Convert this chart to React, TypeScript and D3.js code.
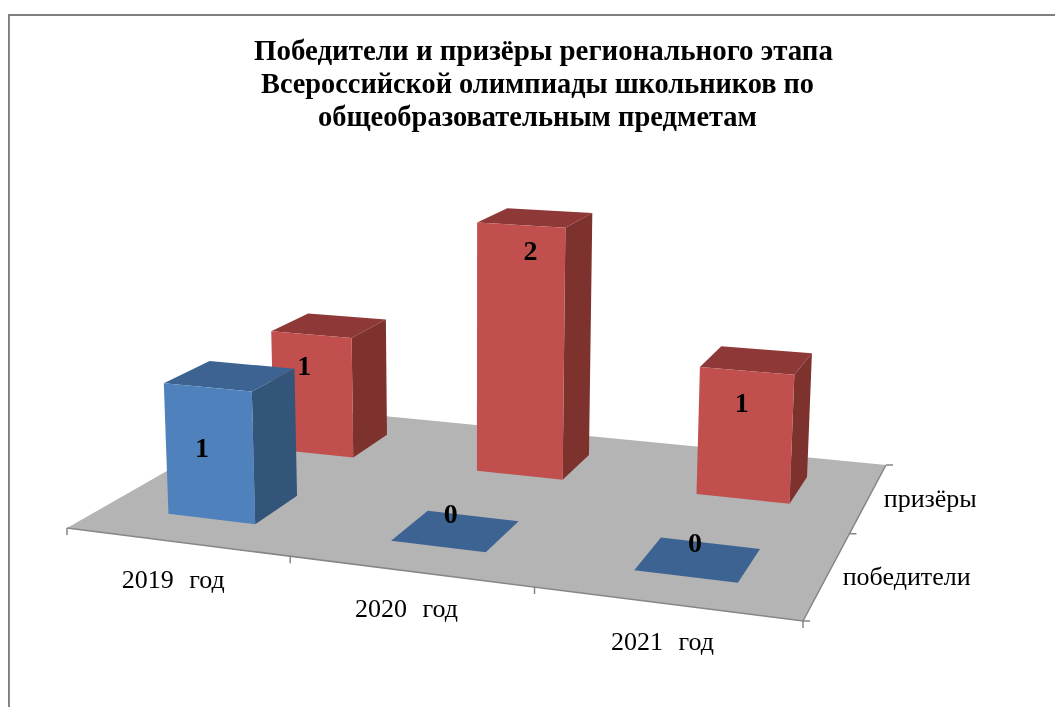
import React from "react";
import * as d3 from "d3";

const titleLines = [
  "Победители и призёры регионального этапа",
  "Всероссийской олимпиады школьников по",
  "общеобразовательным предметам",
];
const categories = ["2019 год", "2020 год", "2021 год"];
const seriesNames = ["победители", "призёры"];
const winners = [1, 0, 0];
const medalists = [1, 2, 1];

// fitted extent of each title line
const titleCentres = [543.5, 537.5, 537.5];
const titleWidths = [579, 553, 439];

// label nudges relative to the bar's top centre, per [series][category]
const labelNudge = [
  [[-28, 72], [-5, -17], [-3, -16]],
  [[-25, 41], [-5, 33], [-15, 43]],
];
const palette = [
  { front: "#4F81BD", side: "#335479", top: "#3E6392" },
  { front: "#C0504D", side: "#7D302F", top: "#8F3937" },
];

// Perspective of the chart floor: unit square to screen, with a vanishing point for verticals
const q0: [number, number] = [67, 528];
const q1: [number, number] = [803, 621];
const q2: [number, number] = [886, 465];
const q3: [number, number] = [281, 406];
const vanish: [number, number] = [470, 9000];

const dx1 = q1[0] - q2[0], dx2 = q3[0] - q2[0], sx = q0[0] - q1[0] + q2[0] - q3[0];
const dy1 = q1[1] - q2[1], dy2 = q3[1] - q2[1], sy = q0[1] - q1[1] + q2[1] - q3[1];
const det = dx1 * dy2 - dx2 * dy1;
const g = (sx * dy2 - dx2 * sy) / det;
const h = (dx1 * sy - sx * dy1) / det;
const a = q1[0] - q0[0] + g * q1[0], b = q3[0] - q0[0] + h * q3[0], c = q0[0];
const d_ = q1[1] - q0[1] + g * q1[1], e = q3[1] - q0[1] + h * q3[1], f = q0[1];

function project(u: number, v: number, z = 0): [number, number] {
  const w = 1 + g * u + h * v - z;
  return [
    (a * u + b * v + c - z * vanish[0]) / w,
    (d_ * u + e * v + f - z * vanish[1]) / w,
  ];
}

const uScale = d3.scaleBand<string>().domain(categories).range([0, 1]).paddingInner(0.6).paddingOuter(0.3);
const vScale = d3.scaleBand<string>().domain(seriesNames).range([0, 1]).paddingInner(0.6).paddingOuter(0.3);
const zScale = d3.scaleLinear().domain([0, 2]).range([0, 0.031]);
const poly = d3.line().curve(d3.curveLinearClosed);
const seg = d3.line();

const AXIS = "#868686";
const FONT = "'Liberation Serif', serif";

function Bar({ cat, ser, value }: { cat: string; ser: number; value: number }) {
  const u0 = uScale(cat)!, u1 = u0 + uScale.bandwidth();
  const v0 = vScale(seriesNames[ser])!, v1 = v0 + vScale.bandwidth();
  const z = zScale(value);
  const col = palette[ser];
  const top = poly([project(u0, v0, z), project(u1, v0, z), project(u1, v1, z), project(u0, v1, z)])!;
  if (value === 0) return <path d={top} fill={col.top} />;
  return (
    <g>
      <path d={top} fill={col.top} />
      <path d={poly([project(u1, v0, 0), project(u1, v1, 0), project(u1, v1, z), project(u1, v0, z)])!} fill={col.side} />
      <path d={poly([project(u0, v0, 0), project(u1, v0, 0), project(u1, v0, z), project(u0, v0, z)])!} fill={col.front} />
    </g>
  );
}

export default function App() {
  const rows = [
    { ser: 1, values: medalists },
    { ser: 0, values: winners },
  ];
  const uTicks = d3.range(categories.length + 1).map((i) => i / categories.length);
  const vTicks = d3.range(seriesNames.length + 1).map((i) => i / seriesNames.length);
  return (
    <svg width={1055} height={707} style={{ position: "absolute", left: 0, top: 0, background: "#fff" }}>
      <defs>
        <filter id="soft" x="0" y="0" width="100%" height="100%">
          <feGaussianBlur stdDeviation="0.4" />
        </filter>
      </defs>
      <g filter="url(#soft)">
        <path d={seg([[8.5, 707], [8.5, 14.5], [1055, 14.5]])!} fill="none" stroke="#808080" strokeWidth={2.8} />
        <g fontFamily={FONT} fontWeight="bold" fontSize={28.5} textAnchor="middle" fill="#000">
          {titleLines.map((t, i) => (
            <text key={i} x={titleCentres[i]} y={60 + i * 33} textLength={titleWidths[i]} lengthAdjust="spacingAndGlyphs">{t}</text>
          ))}
        </g>
        <path d={poly([project(0, 0), project(1, 0), project(1, 1), project(0, 1)])!} fill="#B4B4B4" />
        <path d={seg([project(0, 0), project(1, 0), project(1, 1)])!} fill="none" stroke={AXIS} strokeWidth={1.5} />
        {uTicks.map((t) => {
          const p = project(t, 0);
          return <path key={t} d={seg([p, [p[0], p[1] + 7]])!} stroke={AXIS} strokeWidth={1.5} />;
        })}
        {vTicks.map((t) => {
          const p = project(1, t);
          return <path key={t} d={seg([p, [p[0] + 7, p[1]]])!} stroke={AXIS} strokeWidth={1.5} />;
        })}
        {rows.map((r) =>
          categories.map((cat, i) => <Bar key={r.ser + cat} cat={cat} ser={r.ser} value={r.values[i]} />)
        )}
        <g fontFamily={FONT} fontSize={26} fill="#000">
          {categories.map((cat) => {
            const p = project(uScale(cat)! + uScale.bandwidth() / 2, 0);
            return (
              <text key={cat} x={p[0] - 3} y={p[1] + 46} textAnchor="middle" wordSpacing={9}>{cat}</text>
            );
          })}
          {seriesNames.map((s) => {
            const p = project(1, vScale(s)! + vScale.bandwidth() / 2);
            return <text key={s} x={p[0] + 15} y={p[1] + 10}>{s}</text>;
          })}
        </g>
        <g fontFamily={FONT} fontWeight="bold" fontSize={28} textAnchor="middle" fill="#000">
          {rows.map((r) =>
            categories.map((cat, i) => {
              const uc = uScale(cat)! + uScale.bandwidth() / 2;
              const vc = vScale(seriesNames[r.ser])! + vScale.bandwidth() / 2;
              const p = project(uc, vc, zScale(r.values[i]));
              const n = labelNudge[r.ser][i];
              return (
                <text key={r.ser + cat} x={p[0] + n[0]} y={p[1] + n[1] + 9}>{r.values[i]}</text>
              );
            })
          )}
        </g>
      </g>
    </svg>
  );
}
